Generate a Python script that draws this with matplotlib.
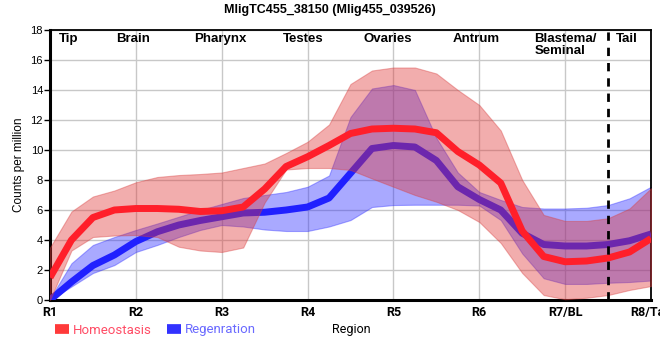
import matplotlib
matplotlib.use("Agg")
from matplotlib import pyplot as plt
from matplotlib.lines import Line2D

# positions along the body, R1 .. R8 in quarter steps
pos = [1 + 0.25 * i for i in range(29)]

homeo_mean = [1.5, 4.0, 5.5, 6.0, 6.1, 6.1, 6.05, 5.9, 5.95, 6.2, 7.4, 8.9, 9.55, 10.3,
              11.1, 11.4, 11.45, 11.4, 11.15, 9.9, 9.0, 7.8, 4.6, 2.9, 2.55, 2.6, 2.8, 3.2, 4.1]
homeo_hi = [3.5, 5.9, 6.9, 7.3, 7.85, 8.2, 8.33, 8.4, 8.5, 8.8, 9.1, 9.8, 10.55, 11.7,
            14.4, 15.3, 15.5, 15.5, 15.1, 14.0, 13.0, 11.3, 8.0, 5.67, 5.27, 5.27, 5.45, 6.1, 7.45]
homeo_lo = [0.0, 3.3, 4.2, 4.3, 4.33, 4.2, 3.55, 3.3, 3.2, 3.5, 6.5, 8.7, 8.8, 8.8,
            8.67, 8.1, 7.55, 7.0, 6.55, 6.0, 5.2, 3.8, 1.8, 0.33, 0.05, 0.15, 0.33, 0.67, 0.93]

regen_mean = [0.0, 1.2, 2.3, 3.0, 3.9, 4.55, 5.0, 5.3, 5.55, 5.8, 5.85, 6.0, 6.2, 6.8,
              8.45, 10.1, 10.3, 10.2, 9.3, 7.55, 6.7, 6.0, 4.45, 3.7, 3.6, 3.6, 3.7, 3.95, 4.4]
regen_hi = [0.1, 2.45, 3.67, 4.2, 4.67, 5.1, 5.55, 6.0, 6.4, 6.8, 7.0, 7.2, 7.55, 8.3,
            12.2, 14.1, 14.33, 14.0, 10.8, 8.5, 7.2, 6.67, 6.2, 6.1, 6.1, 6.15, 6.33, 6.78, 7.55]
regen_lo = [0.0, 0.9, 1.8, 2.33, 3.2, 3.67, 4.2, 4.67, 5.0, 4.9, 4.7, 4.6, 4.6, 4.9,
            5.33, 6.2, 6.33, 6.35, 6.35, 6.35, 6.3, 5.33, 3.1, 1.45, 1.07, 1.07, 1.15, 1.2, 1.3]

tick_pos = [1, 2, 3, 4, 5, 6, 7, 8]
tick_labels = ["R1", "R2", "R3", "R4", "R5", "R6", "R7/BL", "R8/Tail"]

regions = ["Tip", "Brain", "Pharynx", "Testes", "Ovaries", "Antrum", "Blastema/\nSeminal", "Tail"]
region_x = [1.22, 1.97, 2.98, 3.95, 4.93, 5.97, 6.64, 7.72]

fig = plt.figure(figsize=(6.6, 3.6), dpi=100)
ax = fig.add_axes([50 / 660, 60 / 360, 601 / 660, 270 / 360])

# regeneration band + line
ax.fill_between(pos, regen_lo, regen_hi, color="#2a2aff", alpha=0.4, lw=0.8, edgecolor="#3030ff", zorder=2)
ax.plot(pos, regen_mean, color="#2020ff", lw=5, solid_capstyle="butt", solid_joinstyle="round", zorder=3)
# homeostasis band + line
ax.fill_between(pos, homeo_lo, homeo_hi, color="#e03333", alpha=0.4, lw=0.8, edgecolor="#d84040", zorder=4)
ax.plot(pos, homeo_mean, color="#ff1f2a", lw=5, solid_capstyle="butt", solid_joinstyle="round", zorder=5)

ax.axvline(7.5, color="black", lw=2, ls=(0, (3, 2.5)), zorder=6)

ax.set_xlim(1, 8)
ax.set_ylim(0, 18)
ax.set_yticks(range(0, 19, 2))
ax.set_xticks(tick_pos)
ax.set_xticklabels(tick_labels, family="Roboto", fontweight="bold", fontsize=9)
for t in ax.get_yticklabels():
    t.set_family("Liberation Sans")
    t.set_fontsize(8)
ax.tick_params(axis="y", length=4, width=1, pad=1)
ax.tick_params(axis="x", length=0, pad=4)
ax.grid(color="#c8c8c8", lw=1)
ax.set_axisbelow(True)

ax.spines["left"].set_linewidth(2.2)
ax.spines["bottom"].set_linewidth(2.2)
ax.spines["top"].set_linewidth(1.3)
ax.spines["right"].set_linewidth(1.3)

for name, xr in zip(regions, region_x):
    if "\n" in name:
        ax.text(xr, 17.8, name, ha="left", va="top", fontsize=9.5, fontweight="bold",
                family="Liberation Sans", linespacing=1.0, zorder=7)
    else:
        ax.text(xr, 17.8, name, ha="center", va="top", fontsize=9.5, fontweight="bold",
                family="Liberation Sans", zorder=7)

ax.set_ylabel("Counts per million", family="Liberation Sans", fontsize=8.5, labelpad=4)
fig.text(351 / 660, 30 / 360, "Region", ha="center", va="center", family="Roboto", fontsize=9)
fig.suptitle("MligTC455_38150 (Mlig455_039526)", x=0.5, y=1 - 10 / 360, va="center",
             fontsize=9, fontweight="bold", family="Liberation Sans")

handles = [Line2D([], [], color="#ff3a3a", lw=7, solid_capstyle="butt"),
           Line2D([], [], color="#3232ff", lw=7, solid_capstyle="butt")]
leg = fig.legend(handles, ["Homeostasis", "Regenration"], loc="center left",
                 bbox_to_anchor=(43 / 660, 30 / 360), ncol=2, frameon=False,
                 handlelength=1.1, handletextpad=0.3, columnspacing=1.1,
                 prop={"family": "Roboto", "size": 9.5})
leg.get_texts()[0].set_color("#ff4d66")
leg.get_texts()[1].set_color("#6a6aff")

plt.savefig("out.png", dpi=100)
